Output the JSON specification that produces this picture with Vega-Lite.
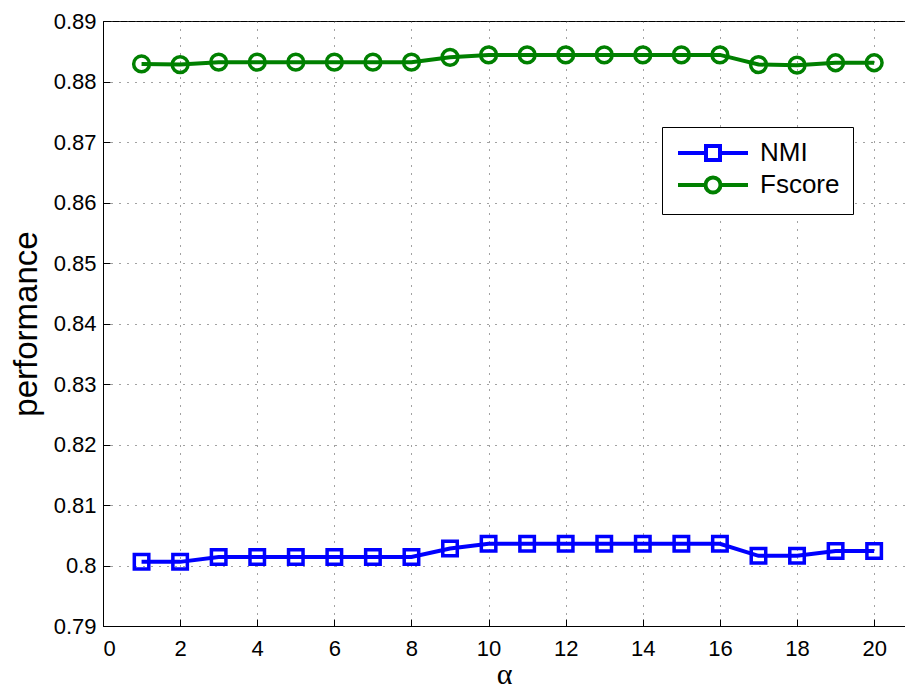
{
  "$schema": "https://vega.github.io/schema/vega-lite/v6.json",
  "autosize": "none",
  "padding": {"left": 103, "top": 21, "right": 0, "bottom": 63},
  "width": 802,
  "height": 605,
  "background": "white",
  "config": {
    "view": {"stroke": "black", "strokeWidth": 1},
    "font": "Liberation Sans",
    "axis": {
      "labelFont": "Liberation Sans",
      "labelFontSize": 22,
      "labelColor": "black",
      "domainColor": "black",
      "tickColor": "black",
      "gridColor": "#444444",
      "gridDash": [1, 7],
      "gridWidth": 1
    },
    "legend": {
      "orient": "none",
      "legendX": 559,
      "legendY": 106,
      "strokeColor": "black",
      "fillColor": "white",
      "padding": 13,
      "rowPadding": 1,
      "labelFont": "Liberation Sans",
      "labelFontSize": 26,
      "labelColor": "black",
      "symbolSize": 400,
      "symbolOffset": 25,
      "symbolStrokeWidth": 4,
      "symbolFillColor": "transparent",
      "symbolOpacity": 1,
      "labelOffset": 34
    }
  },
  "data": {
    "values": [
      {"alpha": 1, "series": "NMI", "value": 0.8006},
      {"alpha": 2, "series": "NMI", "value": 0.8006},
      {"alpha": 3, "series": "NMI", "value": 0.8014},
      {"alpha": 4, "series": "NMI", "value": 0.8014},
      {"alpha": 5, "series": "NMI", "value": 0.8014},
      {"alpha": 6, "series": "NMI", "value": 0.8014},
      {"alpha": 7, "series": "NMI", "value": 0.8014},
      {"alpha": 8, "series": "NMI", "value": 0.8014},
      {"alpha": 9, "series": "NMI", "value": 0.8028},
      {"alpha": 10, "series": "NMI", "value": 0.8036},
      {"alpha": 11, "series": "NMI", "value": 0.8036},
      {"alpha": 12, "series": "NMI", "value": 0.8036},
      {"alpha": 13, "series": "NMI", "value": 0.8036},
      {"alpha": 14, "series": "NMI", "value": 0.8036},
      {"alpha": 15, "series": "NMI", "value": 0.8036},
      {"alpha": 16, "series": "NMI", "value": 0.8036},
      {"alpha": 17, "series": "NMI", "value": 0.8016},
      {"alpha": 18, "series": "NMI", "value": 0.8016},
      {"alpha": 19, "series": "NMI", "value": 0.8024},
      {"alpha": 20, "series": "NMI", "value": 0.8024},
      {"alpha": 1, "series": "Fscore", "value": 0.8829},
      {"alpha": 2, "series": "Fscore", "value": 0.8828},
      {"alpha": 3, "series": "Fscore", "value": 0.8832},
      {"alpha": 4, "series": "Fscore", "value": 0.8832},
      {"alpha": 5, "series": "Fscore", "value": 0.8832},
      {"alpha": 6, "series": "Fscore", "value": 0.8832},
      {"alpha": 7, "series": "Fscore", "value": 0.8832},
      {"alpha": 8, "series": "Fscore", "value": 0.8832},
      {"alpha": 9, "series": "Fscore", "value": 0.8840},
      {"alpha": 10, "series": "Fscore", "value": 0.8844},
      {"alpha": 11, "series": "Fscore", "value": 0.8844},
      {"alpha": 12, "series": "Fscore", "value": 0.8844},
      {"alpha": 13, "series": "Fscore", "value": 0.8844},
      {"alpha": 14, "series": "Fscore", "value": 0.8844},
      {"alpha": 15, "series": "Fscore", "value": 0.8844},
      {"alpha": 16, "series": "Fscore", "value": 0.8844},
      {"alpha": 17, "series": "Fscore", "value": 0.8828},
      {"alpha": 18, "series": "Fscore", "value": 0.8827},
      {"alpha": 19, "series": "Fscore", "value": 0.8831},
      {"alpha": 20, "series": "Fscore", "value": 0.8831}
    ]
  },
  "encoding": {
    "x": {
      "field": "alpha", "type": "quantitative",
      "scale": {"domain": [0, 20.8], "nice": false, "zero": false},
      "axis": {
        "title": "α", "titleFont": "Liberation Serif", "titleFontSize": 30, "titleFontWeight": "normal",
        "titleBaseline": "alphabetic",
        "titlePadding": 24,
        "values": [0, 2, 4, 6, 8, 10, 12, 14, 16, 18, 20],
        "tickSize": -7, "labelPadding": 19, "grid": true
      }
    },
    "y": {
      "field": "value", "type": "quantitative",
      "scale": {"domain": [0.79, 0.89], "nice": false, "zero": false},
      "axis": {
        "title": "performance", "titleFontSize": 33, "titleFontWeight": "normal",
        "titlePadding": 10,
        "values": [0.79, 0.8, 0.81, 0.82, 0.83, 0.84, 0.85, 0.86, 0.87, 0.88, 0.89],
        "format": ".2~f",
        "tickSize": -7, "labelPadding": 14, "grid": true
      }
    },
    "color": {
      "field": "series", "type": "nominal",
      "scale": {"domain": ["NMI", "Fscore"], "range": ["#0000ff", "#008000"]},
      "legend": {"title": null}
    }
  },
  "layer": [
    {
      "mark": {"type": "line", "strokeWidth": 4},
      "encoding": {"detail": {"field": "series"}}
    },
    {
      "transform": [{"filter": "datum.series === 'NMI'"}],
      "mark": {"type": "square", "filled": false, "strokeWidth": 3.5, "size": 210, "opacity": 1}
    },
    {
      "transform": [{"filter": "datum.series === 'Fscore'"}],
      "mark": {"type": "circle", "filled": false, "strokeWidth": 3.5, "size": 250, "opacity": 1}
    },
    {
      "mark": {"type": "point", "filled": false, "opacity": 0},
      "encoding": {
        "shape": {
          "field": "series", "type": "nominal",
          "scale": {
            "domain": ["NMI", "Fscore"],
            "range": [
              "M-3.5,0H-0.7M0.7,0H3.5M-0.7,-0.7H0.7V0.7H-0.7Z",
              "M-3.5,0H-0.75M0.75,0H3.5M-0.75,0A0.75,0.75 0 1,0 0.75,0A0.75,0.75 0 1,0 -0.75,0"
            ]
          },
          "legend": {"title": null}
        }
      }
    }
  ]
}
